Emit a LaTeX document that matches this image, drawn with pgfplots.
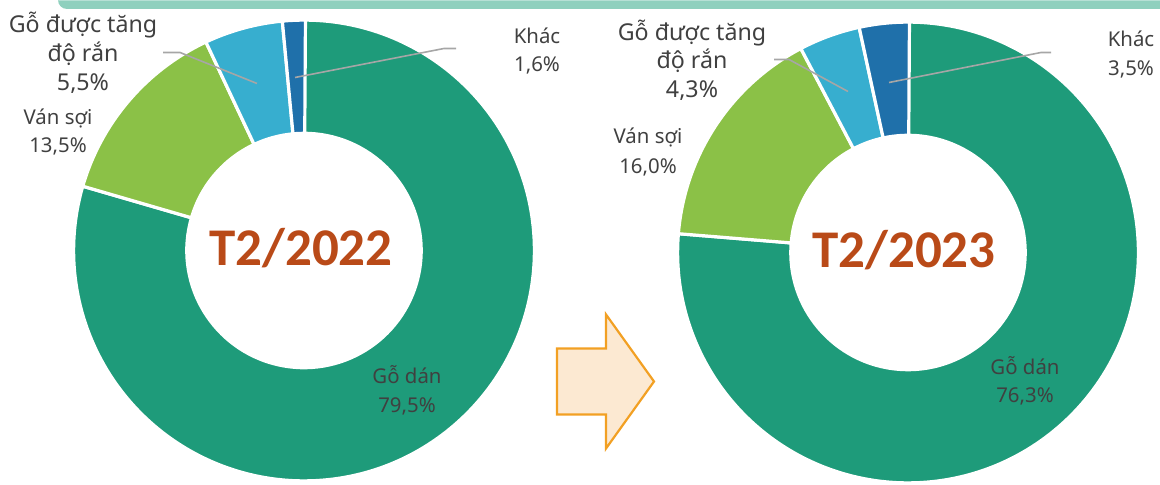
\documentclass[border=0pt]{standalone}
\usepackage{pgfplots}
\pgfplotsset{compat=1.18}
\usepackage{fontspec}
\setmainfont{Noto Sans}
\newfontfamily\calibri{Carlito}
\definecolor{plyc}{RGB}{30,155,122}
\definecolor{fibc}{RGB}{139,193,71}
\definecolor{hardc}{RGB}{55,174,207}
\definecolor{othc}{RGB}{31,112,170}
\definecolor{labc}{RGB}{64,64,64}
\definecolor{titc}{RGB}{185,74,24}
\definecolor{stripc}{RGB}{143,208,190}
\definecolor{leadc}{RGB}{166,166,166}
\definecolor{arrfill}{RGB}{252,233,210}
\definecolor{arrdraw}{RGB}{242,160,35}

\newcommand\Ro{115.2pt}
\newcommand\Ri{58.6pt}
\gdef\cum{90}
% \slice{cx}{cy}{value in percent}{colour}
\newcommand\slice[4]{%
  \pgfmathsetmacro\sa{\cum}%
  \pgfmathsetmacro\sb{\cum-3.6*#3}%
  \edef\tmp{\noexpand\fill[#4, draw=white, line width=1.6pt, line join=round]
    ([shift={(\sa:\Ro)}]axis cs:#1,#2) arc[start angle=\sa, end angle=\sb, radius=\Ro]
    -- ([shift={(\sb:\Ri)}]axis cs:#1,#2) arc[start angle=\sb, end angle=\sa, radius=\Ri] -- cycle;}%
  \tmp
  \global\let\cum\sb
}
\newcommand\lab[4][\fontsize{10.2}{12}\selectfont]{%
  \node[anchor=base, text=labc, font=#1, inner sep=0pt] at (axis cs:#2,#3) {#4};}

\begin{document}
\begin{tikzpicture}
\begin{axis}[
  scale only axis, width=580pt, height=240pt,
  xmin=0, xmax=1160, ymin=0, ymax=480,
  hide axis, clip=false]
\path (axis cs:0,0) rectangle (axis cs:1160,480);
% top strip (pixel y measured downwards: Y = 480 - y)
\fill[stripc] (axis cs:1160,480) -- (axis cs:58,480)
  -- ([yshift=4.5pt]axis cs:58,471.5) arc[start angle=180, end angle=270, radius=4.5pt]
  -- (axis cs:1160,471.5) -- cycle;

% ---- T2/2022 : Gỗ dán 79.5, Ván sợi 13.5, Gỗ được tăng độ rắn 5.5, Khác 1.6
\gdef\cum{90}
\slice{304}{230}{79.5}{plyc}
\slice{304}{230}{13.5}{fibc}
\slice{304}{230}{5.5}{hardc}
\slice{304}{230}{1.6}{othc}

% ---- T2/2023 : Gỗ dán 76.3, Ván sợi 16.0, Gỗ được tăng độ rắn 4.3, Khác 3.5
\gdef\cum{90}
\slice{908}{228}{76.3}{plyc}
\slice{908}{228}{16.0}{fibc}
\slice{908}{228}{4.3}{hardc}
\slice{908}{228}{3.5}{othc}

% leader lines
\draw[leadc, line width=0.8pt] (axis cs:163,428) -- (axis cs:180,428) -- (axis cs:257,397);
\draw[leadc, line width=0.8pt] (axis cs:295,403) -- (axis cs:444,432) -- (axis cs:456,432);
\draw[leadc, line width=0.8pt] (axis cs:774,421) -- (axis cs:789,421) -- (axis cs:848,389);
\draw[leadc, line width=0.8pt] (axis cs:889,398) -- (axis cs:1041,428) -- (axis cs:1051,428);

% centre titles
\node[text=titc, font={\calibri\bfseries\fontsize{26.5}{30}\selectfont}, inner sep=0pt, anchor=base] at (axis cs:301,215) {T2/2022};
\node[text=titc, font={\calibri\bfseries\fontsize{26.5}{30}\selectfont}, inner sep=0pt, anchor=base] at (axis cs:904,213) {T2/2023};

% labels left
\lab[\fontsize{11.6}{14}\selectfont]{83}{448}{Gỗ được tăng}
\lab[\fontsize{11.6}{14}\selectfont]{83}{419}{độ rắn}
\lab[\fontsize{11.6}{14}\selectfont]{83}{390}{5,5\%}
\lab{58}{356}{Ván sợi}
\lab{58}{328}{13,5\%}
\lab{537}{437}{Khác}
\lab{537}{409}{1,6\%}
\lab{407}{97}{Gỗ dán}
\lab{407}{68}{79,5\%}
% labels right
\lab[\fontsize{11.6}{14}\selectfont]{692}{440}{Gỗ được tăng}
\lab[\fontsize{11.6}{14}\selectfont]{692}{412}{độ rắn}
\lab[\fontsize{11.6}{14}\selectfont]{692}{383}{4,3\%}
\lab{648}{337}{Ván sợi}
\lab{648}{307}{16,0\%}
\lab{1131}{434}{Khác}
\lab{1131}{405}{3,5\%}
\lab{1025}{106}{Gỗ dán}
\lab{1025}{78}{76,3\%}

% arrow
\draw[arrdraw, fill=arrfill, line width=1.1pt, line join=miter]
  (axis cs:557,132) -- (axis cs:606,132) -- (axis cs:606,166) -- (axis cs:654,99)
  -- (axis cs:606,32) -- (axis cs:606,66) -- (axis cs:557,66) -- cycle;
\end{axis}
\end{tikzpicture}
\end{document}
